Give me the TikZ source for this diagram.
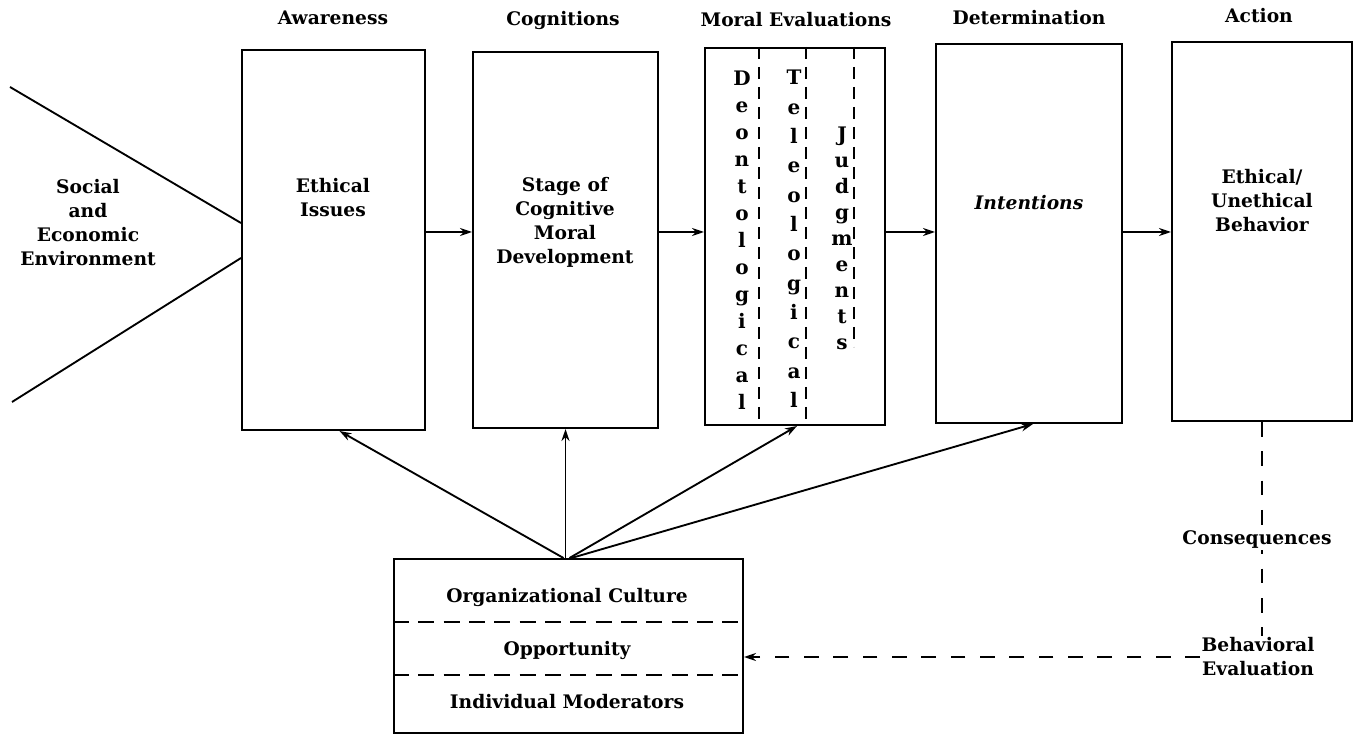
\documentclass[tikz,border=0pt]{standalone}
\usepackage{fontspec}
\setmainfont{DejaVu Serif}
\usetikzlibrary{arrows.meta,calc,fit}
\begin{document}
\begin{tikzpicture}[x=0.75pt,y=-0.75pt,
  box/.style={draw, line width=1.5pt, inner sep=0pt},
  lbl/.style={font=\fontsize{14}{18}\selectfont\bfseries, align=center, inner sep=1pt},
  stack/.style={font=\fontsize{15}{20.25}\selectfont\bfseries, align=center, inner sep=0pt},
  arr/.style={line width=1.4pt, -{Stealth[length=9pt,width=6pt]}},
  divider/.style={line width=1.2pt, dash pattern=on 12pt off 7pt},
  colline/.style={line width=1.1pt, dash pattern=on 9pt off 6pt},
  fb/.style={line width=1.2pt, dash pattern=on 11pt off 11pt}]
\useasboundingbox (0,0) rectangle (1360,737);

% the five stage boxes
\node[box, fit={(242,50) (425,430)}] (b1) {};
\node[box, fit={(473,52) (658,428)}] (b2) {};
\node[box, fit={(705,48) (885,425)}] (b3) {};
\node[box, fit={(936,44) (1122,423)}] (b4) {};
\node[box, fit={(1172,42) (1352,421)}] (b5) {};
% moderators box
\node[box, fit={(394,559) (743,733)}] (bot) {};

% stage titles
\node[lbl] (aw)  at (333,18) {Awareness};
\node[lbl] (cog) at (563,20) {Cognitions};
\node[lbl] (me)  at (796,20) {Moral Evaluations};
\node[lbl] (det) at (1029,18) {Determination};
\node[lbl] (act) at (1259,16) {Action};

% environment wedge
\coordinate (wt) at (10,87);
\coordinate (wb) at (12,402);
\coordinate (wu) at (0,223);
\coordinate (wl) at (0,258);
\draw[line width=1.4pt] (wt) -- (b1.west |- wu);
\draw[line width=1.4pt] (b1.west |- wl) -- (wb);
\node[lbl] (env) at (88,223) {Social\\and\\Economic\\Environment};

% box contents
\node[lbl] (iss)   at (333,198) {Ethical\\Issues};
\node[lbl] (stage) at (565,222) {Stage of\\Cognitive\\Moral\\Development};
\node[lbl, font=\fontsize{14}{18}\selectfont\bfseries\itshape] (int) at (1029,203) {Intentions};
\node[lbl] (behv)  at (1262,201) {Ethical/\\Unethical\\Behavior};

% moral evaluation columns
\draw[colline] ($(b3.north west)+(55,0)$) -- ($(b3.south west)+(55,-5)$);
\draw[colline] ($(b3.north west)+(102,0)$) -- ($(b3.south west)+(102,-2)$);
\draw[colline] ($(b3.north west)+(150,0)$) -- ($(b3.north west)+(150,300)$);
\node[stack] (deon) at (742,240) {D\\e\\o\\n\\t\\o\\l\\o\\g\\i\\c\\a\\l};
\node[stack, font=\fontsize{15}{22}\selectfont\bfseries] (tele) at (794,239) {T\\e\\l\\e\\o\\l\\o\\g\\i\\c\\a\\l};
\node[stack, font=\fontsize{15}{19.5}\selectfont\bfseries] (judg) at (842,238) {J\\u\\d\\g\\m\\e\\n\\t\\s};

% flow between stages
\coordinate (hy) at (0,232);
\draw[arr] (b1.east |- hy) -- (b2.west |- hy);
\draw[arr] (b2.east |- hy) -- (b3.west |- hy);
\draw[arr] (b3.east |- hy) -- (b4.west |- hy);
\draw[arr] (b4.east |- hy) -- (b5.west |- hy);

% moderators
\draw[divider] (bot.west |- 0,622) -- (bot.east |- 0,622);
\draw[divider] (bot.west |- 0,675) -- (bot.east |- 0,675);
\node[lbl] (oc)  at (567,597) {Organizational Culture};
\node[lbl] (opp) at (567,650) {Opportunity};
\node[lbl] (im)  at (567,702) {Individual Moderators};

\draw[arr] ($(bot.north)+(-5,0)$) -- ($(b1.south)+(6,0)$);
\draw[arr] ($(bot.north)+(-3,0)$) -- (b2.south);
\draw[arr] ($(bot.north)+(1,0)$) -- ($(b3.south)+(2,0)$);
\draw[arr] ($(bot.north)+(3,0)$) -- ($(b4.south)+(4,0)$);

% feedback loop
\node[lbl] (beh) at (1258,657) {Behavioral\\Evaluation};
\draw[fb] (b5.south) -- (b5.south |- beh.north);
\node[lbl, fill=white] (cons) at (1257,540) {Consequences};
\draw[fb, -{Stealth[length=9pt,width=6pt]}] (beh.west) -- (bot.east |- beh.west);
\end{tikzpicture}
\end{document}
